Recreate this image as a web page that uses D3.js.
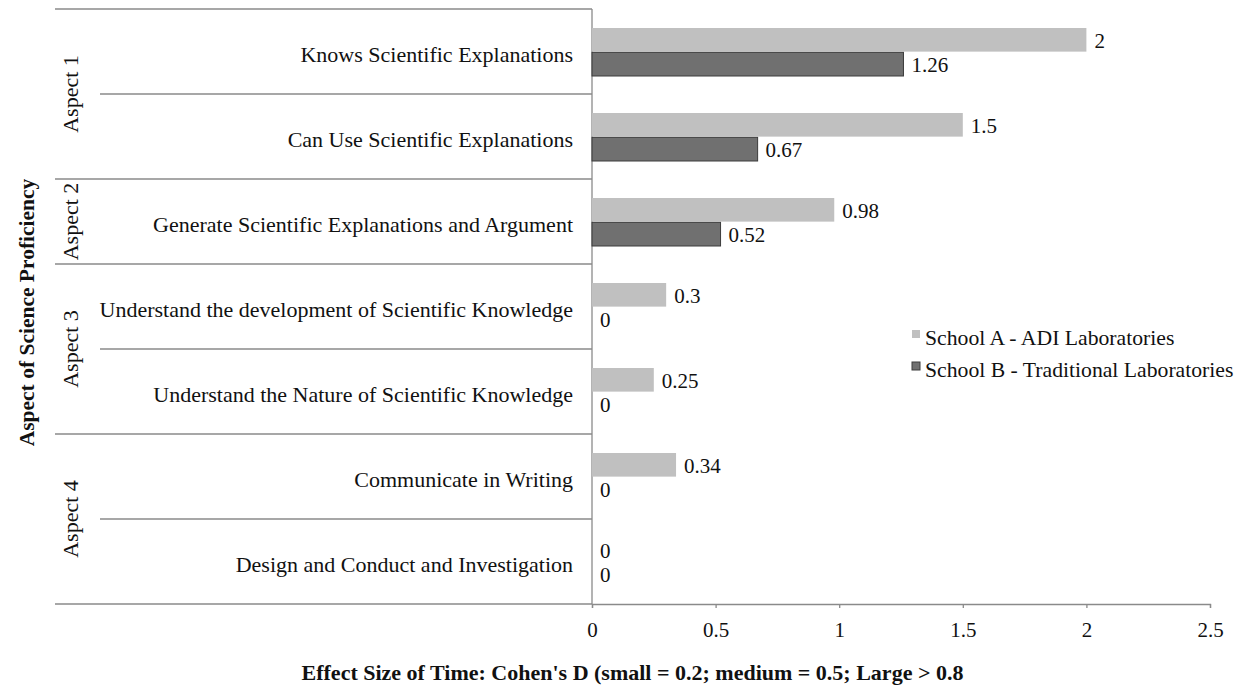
<!DOCTYPE html>
<html>
<head>
<meta charset="utf-8">
<script src="https://cdn.jsdelivr.net/npm/d3@7"></script>
<style>
  body { margin: 0; background: #fff; }
  text { font-family: "Liberation Serif", "Times New Roman", serif; fill: #111; }
</style>
</head>
<body>
<svg id="chart" width="1247" height="691"></svg>
<script>
// data
var categories = [
    "Knows Scientific Explanations",
    "Can Use Scientific Explanations",
    "Generate Scientific Explanations and Argument",
    "Understand the development of Scientific Knowledge",
    "Understand the Nature of Scientific Knowledge",
    "Communicate in Writing",
    "Design and Conduct and Investigation"
];
var aspects = ["Aspect 1", "Aspect 2", "Aspect 3", "Aspect 4"];
var aspectSizes = [2, 1, 2, 2];   // number of categories in each aspect
var series = ["School A - ADI Laboratories", "School B - Traditional Laboratories"];
var schoolA = [2, 1.5, 0.98, 0.3, 0.25, 0.34, 0];
var schoolB = [1.26, 0.67, 0.52, 0, 0, 0, 0];
var xTicks = [0, 0.5, 1, 1.5, 2, 2.5];
var xTitle = "Effect Size of Time: Cohen's D (small = 0.2; medium = 0.5; Large > 0.8";
var yTitle = "Aspect of Science Proficiency";

//////////////////////////////////////////////////////////////////////////////
// scales

var svg = d3.select("#chart");
var colors = ["#c0c0c0", "#707070"];

var xScale = d3.scaleLinear().domain([0, 2.5]).range([592, 1210]);
var yScale = d3.scaleBand().domain(categories).range([9, 604]);
var subScale = d3.scaleBand().domain(series).range([19, 67]).paddingInner(0.03);

var rows = categories.map(function(c, i) {
    return { cat: c, vals: [schoolA[i], schoolB[i]] };
});

//////////////////////////////////////////////////////////////////////////////
// separators and axis lines

var lineColor = "#8a8a8a";
var groupStarts = [0];
aspectSizes.forEach(function(n, i) { groupStarts.push(groupStarts[i] + n); });

function boundY(i) {
    return i < categories.length ? yScale(categories[i]) : yScale.range()[1];
}

svg.append("g").selectAll("line")
    .data(d3.range(categories.length + 1))
    .enter()
    .append("line")
    .attr("x1", function(i) { return groupStarts.indexOf(i) >= 0 ? 55 : 100; })
    .attr("x2", xScale(0))
    .attr("y1", boundY)
    .attr("y2", boundY)
    .attr("stroke", lineColor)
    .attr("stroke-width", 1.3);

// vertical axis line
svg.append("line")
    .attr("x1", xScale(0)).attr("x2", xScale(0))
    .attr("y1", yScale.range()[0]).attr("y2", yScale.range()[1])
    .attr("stroke", lineColor).attr("stroke-width", 1.3);

// x axis
var xAxis = svg.append("g")
    .attr("transform", "translate(0," + yScale.range()[1] + ")")
    .call(d3.axisBottom(xScale).tickValues(xTicks).tickSize(4).tickPadding(14)
        .tickFormat(function(d) { return String(d); }));
xAxis.select(".domain").attr("stroke", lineColor).attr("stroke-width", 1.3);
xAxis.selectAll(".tick line").attr("stroke", lineColor).attr("stroke-width", 1.3);
xAxis.selectAll(".tick text")
    .attr("font-size", 21)
    .attr("font-family", "Liberation Serif, Times New Roman, serif")
    .attr("fill", "#111");

//////////////////////////////////////////////////////////////////////////////
// bars

var groups = svg.append("g").selectAll("g")
    .data(rows)
    .enter()
    .append("g")
    .attr("transform", function(d) { return "translate(0," + yScale(d.cat) + ")"; });

function pairs(d) {
    return d.vals.map(function(v, j) { return { v: v, s: series[j], j: j }; });
}

groups.selectAll("rect")
    .data(function(d) { return pairs(d).filter(function(p) { return p.v > 0; }); })
    .enter()
    .append("rect")
    .attr("x", xScale(0))
    .attr("y", function(d) { return subScale(d.s); })
    .attr("width", function(d) { return xScale(d.v) - xScale(0); })
    .attr("height", subScale.bandwidth())
    .attr("fill", function(d) { return colors[d.j]; })
    .attr("stroke", function(d) { return d.j == 1 ? "#3c3c3c" : "none"; })
    .attr("stroke-width", 1);

groups.selectAll("text")
    .data(pairs)
    .enter()
    .append("text")
    .attr("x", function(d) { return xScale(d.v) + 8; })
    .attr("y", function(d) { return subScale(d.s) + subScale.bandwidth() / 2 + 8; })
    .attr("font-size", 21)
    .text(function(d) { return String(d.v); });

//////////////////////////////////////////////////////////////////////////////
// category and aspect labels

svg.append("g").selectAll("text")
    .data(categories)
    .enter()
    .append("text")
    .attr("x", 573)
    .attr("y", function(d) { return yScale(d) + yScale.bandwidth() / 2 + 10; })
    .attr("text-anchor", "end")
    .attr("font-size", 22)
    .text(function(d) { return d; });

svg.append("g").selectAll("text")
    .data(aspects)
    .enter()
    .append("text")
    .attr("transform", function(d, i) {
        var top = yScale(categories[groupStarts[i]]);
        var bottom = top + aspectSizes[i] * yScale.bandwidth();
        return "translate(78," + ((top + bottom) / 2) + ") rotate(-90)";
    })
    .attr("text-anchor", "middle")
    .attr("font-size", 22)
    .text(function(d) { return d; });

// axis titles
svg.append("text")
    .attr("transform", "translate(34," + ((yScale.range()[0] + yScale.range()[1]) / 2 + 6) + ") rotate(-90)")
    .attr("text-anchor", "middle")
    .attr("font-size", 21.5)
    .attr("font-weight", "bold")
    .text(yTitle);

svg.append("text")
    .attr("x", (55 + xScale.range()[1]) / 2)
    .attr("y", 680)
    .attr("text-anchor", "middle")
    .attr("font-size", 22)
    .attr("font-weight", "bold")
    .text(xTitle);

//////////////////////////////////////////////////////////////////////////////
// legend

var legend = svg.append("g").selectAll("g")
    .data(series)
    .enter()
    .append("g")
    .attr("transform", function(d, i) { return "translate(912," + (345 + i * 32) + ")"; });

legend.append("rect")
    .attr("x", 0).attr("y", -15)
    .attr("width", 8).attr("height", 8)
    .attr("fill", function(d, i) { return colors[i]; })
    .attr("stroke", function(d, i) { return i == 1 ? "#3c3c3c" : "none"; });

legend.append("text")
    .attr("x", 13)
    .attr("y", 0)
    .attr("font-size", 21.7)
    .text(function(d) { return d; });
</script>
</body>
</html>
